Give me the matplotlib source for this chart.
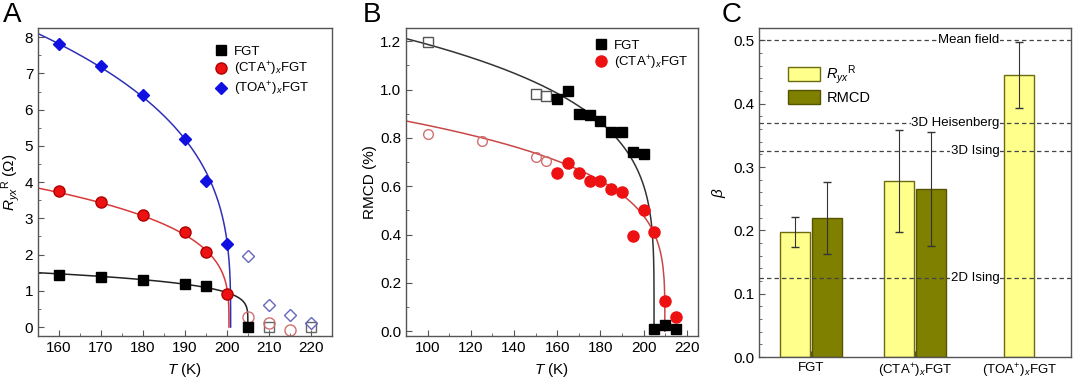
import numpy as np
import matplotlib.pyplot as plt
from matplotlib.ticker import MultipleLocator

plt.rcParams['font.family'] = ['Liberation Sans', 'DejaVu Sans']
plt.rcParams['mathtext.fontset'] = 'custom'
plt.rcParams['mathtext.rm'] = 'Liberation Sans'
plt.rcParams['mathtext.it'] = 'Liberation Sans:italic'
plt.rcParams['font.size'] = 11

CTA = r'(CTA$^{+}$)$_x$FGT'
TOA = r'(TOA$^{+}$)$_x$FGT'

# ---- panel A: R_yx^R vs T ----
a_fgt_T = [160, 170, 180, 190, 195, 205]
a_fgt_R = [1.45, 1.38, 1.31, 1.19, 1.12, 0.0]
a_fgt_T_open = [210, 220]
a_fgt_R_open = [0.0, 0.0]
a_cta_T = [160, 170, 180, 190, 195, 200]
a_cta_R = [3.75, 3.45, 3.08, 2.62, 2.08, 0.92]
a_cta_T_open = [205, 210, 215]
a_cta_R_open = [0.28, 0.10, -0.08]
a_toa_T = [160, 170, 180, 190, 195, 200]
a_toa_R = [7.82, 7.20, 6.40, 5.20, 4.03, 2.28]
a_toa_T_open = [205, 210, 215, 220]
a_toa_R_open = [1.95, 0.60, 0.33, 0.10]
# power-law fits A*(1-T/Tc)^beta  (amplitude, Tc, beta)
a_fit_fgt = (1.98, 205.0, 0.197)
a_fit_cta = (5.81, 200.5, 0.28)
a_fit_toa = (12.8, 200.9, 0.31)

# ---- panel B: RMCD vs T ----
b_fgt_T_open = [100, 150, 155]
b_fgt_M_open = [1.195, 0.98, 0.975]
b_fgt_T = [160, 165, 170, 175, 180, 185, 190, 195, 200, 205, 210, 215]
b_fgt_M = [0.96, 0.995, 0.90, 0.895, 0.87, 0.825, 0.825, 0.74, 0.735, 0.01, 0.025, 0.01]
b_cta_T_open = [100, 125, 150, 155]
b_cta_M_open = [0.815, 0.785, 0.72, 0.705]
b_cta_T = [160, 165, 170, 175, 180, 185, 190, 195, 200, 205, 210, 215]
b_cta_M = [0.655, 0.695, 0.655, 0.62, 0.62, 0.59, 0.575, 0.395, 0.50, 0.41, 0.125, 0.06]
b_fit_fgt = (1.375, 204.8, 0.22)
b_fit_cta = (0.995, 209.8, 0.24)

# ---- panel C: beta ----
c_labels = ['FGT', CTA, TOA]
c_rxy = [0.197, 0.278, 0.445]
c_rxy_err = [0.024, 0.080, 0.052]
c_rmcd = [0.219, 0.265]
c_rmcd_err = [0.057, 0.090]
c_refs = [(0.5, 'Mean field'), (0.369, '3D Heisenberg'), (0.326, '3D Ising'), (0.125, '2D Ising')]


def fit_curve(params, t0):
    amp, tc, beta = params
    t = np.concatenate([np.linspace(t0, tc - 0.5, 300), np.linspace(tc - 0.5, tc, 200)])
    return t, amp * np.clip(1 - t / tc, 0, None) ** beta


def style(ax):
    for s in ax.spines.values():
        s.set_color('#555555')
        s.set_linewidth(1.0)
    ax.tick_params(which='both', direction='in', top=False, right=False, color='#555555')
    ax.tick_params(which='major', length=4)
    ax.tick_params(which='minor', length=2)


fig = plt.figure(figsize=(10.8, 3.85), dpi=100)
axA = fig.add_axes([0.0352, 0.127, 0.272, 0.800])
axB = fig.add_axes([0.376, 0.127, 0.270, 0.800])
axC = fig.add_axes([0.703, 0.0727, 0.289, 0.855])

# A
for params, col in [(a_fit_fgt, '#222222'), (a_fit_cta, '#d83a3a'), (a_fit_toa, '#3030b8')]:
    t, r = fit_curve(params, 155)
    axA.plot(t, r, color=col, lw=1.1, zorder=2)
axA.plot(a_fgt_T, a_fgt_R, 's', color='black', ms=7, ls='none', label='FGT', zorder=3)
axA.plot(a_cta_T, a_cta_R, 'o', color='#ee1111', mec='#b00000', ms=8, ls='none', label=CTA, zorder=3)
axA.plot(a_toa_T, a_toa_R, 'D', color='#1010e0', ms=6.5, ls='none', label=TOA, zorder=3)
axA.plot(a_fgt_T_open, a_fgt_R_open, 's', mfc='none', mec='#666666', ms=7, ls='none')
axA.plot(a_cta_T_open, a_cta_R_open, 'o', mfc='none', mec='#d07070', ms=8, ls='none')
axA.plot(a_toa_T_open, a_toa_R_open, 'D', mfc='none', mec='#6666c0', ms=6.5, ls='none')
axA.set_xlim(155, 225)
axA.set_ylim(-0.25, 8.25)
axA.xaxis.set_major_locator(MultipleLocator(10))
axA.xaxis.set_minor_locator(MultipleLocator(5))
axA.yaxis.set_major_locator(MultipleLocator(1))
axA.yaxis.set_minor_locator(MultipleLocator(0.5))
axA.set_xlabel(r'$T$ (K)')
axA.set_ylabel(r'$R_{yx}$$^{\rm R}$ ($\Omega$)', labelpad=2)
axA.legend(loc='upper right', bbox_to_anchor=(0.945, 0.965), frameon=False, borderpad=0,
           handlelength=1.0, handletextpad=0.45, labelspacing=0.15, fontsize=9.5)
style(axA)

# B
for params, col in [(b_fit_fgt, '#333333'), (b_fit_cta, '#c84848')]:
    t, m = fit_curve(params, 90)
    axB.plot(t, m, color=col, lw=1.1, zorder=2)
axB.plot(b_fgt_T, b_fgt_M, 's', color='black', ms=7, ls='none', label='FGT', zorder=3)
axB.plot(b_cta_T, b_cta_M, 'o', color='#ee1111', mec='#ee1111', ms=8, ls='none', label=CTA, zorder=3)
axB.plot(b_fgt_T_open, b_fgt_M_open, 's', mfc='none', mec='#555555', ms=6.5, ls='none')
axB.plot(b_cta_T_open, b_cta_M_open, 'o', mfc='none', mec='#d07070', ms=7, ls='none')
axB.set_xlim(90, 225)
axB.set_ylim(-0.02, 1.254)
axB.xaxis.set_major_locator(MultipleLocator(20))
axB.xaxis.set_minor_locator(MultipleLocator(10))
axB.yaxis.set_major_locator(MultipleLocator(0.2))
axB.yaxis.set_minor_locator(MultipleLocator(0.1))
axB.yaxis.set_major_formatter(plt.FormatStrFormatter('%.1f'))
axB.set_xlabel(r'$T$ (K)')
axB.set_ylabel('RMCD (%)', labelpad=2)
axB.legend(loc='upper right', bbox_to_anchor=(0.99, 0.985), frameon=False, borderpad=0,
           handlelength=1.0, handletextpad=0.45, labelspacing=0.15, fontsize=9.5)
style(axB)

# C
x = np.arange(len(c_labels))
w = 0.29
xr = np.array([-0.16, -0.16, 0.0]) + x
xm = np.array([0.153, 0.153]) + x[:2]
axC.bar(xr, c_rxy, w, color='#ffff8c', edgecolor='#6b6b10', lw=1.0, label=r'$R_{yx}$$^{\rm R}$', zorder=2)
axC.bar(xm, c_rmcd, w, color='#7f7f00', edgecolor='#555500', lw=1.0, label='RMCD', zorder=2)
axC.errorbar(xr, c_rxy, yerr=c_rxy_err, fmt='none', ecolor='#333333', elinewidth=0.8, capsize=3, zorder=3)
axC.errorbar(xm, c_rmcd, yerr=c_rmcd_err, fmt='none', ecolor='#333333', elinewidth=0.8, capsize=3, zorder=3)
for yv, txt in c_refs:
    axC.axhline(yv, color='#444444', ls=(0, (3.5, 2.5)), lw=0.9, zorder=4)
    axC.text(1.81, yv, txt, ha='right', va='center', fontsize=9.5, zorder=5,
             bbox=dict(facecolor='white', edgecolor='none', pad=0.5))
axC.set_xlim(-0.5, 2.5)
axC.set_ylim(0, 0.52)
axC.set_xticks(x)
axC.set_xticklabels(c_labels, fontsize=9.5)
axC.yaxis.set_major_locator(MultipleLocator(0.1))
axC.yaxis.set_minor_locator(MultipleLocator(0.02))
axC.set_ylabel(r'$\beta$', labelpad=4)
axC.legend(loc='upper left', bbox_to_anchor=(0.07, 0.915), frameon=False, borderpad=0,
           handlelength=2.2, handleheight=1.1, handletextpad=0.4, labelspacing=0.25, fontsize=10.5)
style(axC)

for lbl, xp in [('A', 0.003), ('B', 0.336), ('C', 0.668)]:
    fig.text(xp, 0.995, lbl, fontsize=20, va='top', ha='left')

fig.savefig('out.png', dpi=100)
